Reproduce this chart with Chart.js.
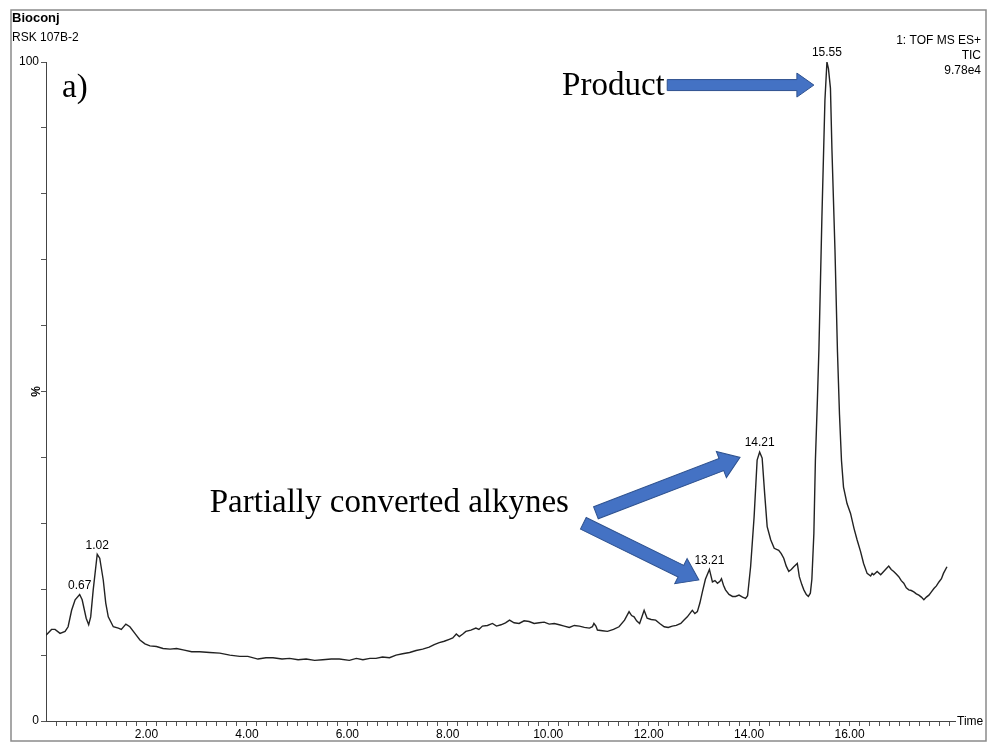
<!DOCTYPE html>
<html lang="en">
<head>
  <meta charset="UTF-8" />
  <title>Bioconj RSK 107B-2 TIC</title>
  <script src="https://cdn.jsdelivr.net/npm/chart.js"></script>
  <style>
    body {
      margin: 0;
      padding: 0;
      background: #fff;
    }
    .wrap {
      position: relative;
      width: 994px;
      height: 744px;
    }
  </style>
</head>
<body>
  <div class="wrap">
    <canvas id="tic"></canvas>
  </div>
  <script>
    /* ===== data (time in min, intensity in %) ===== */
    const times = [
      0.00, 0.11, 0.18, 0.28, 0.38, 0.44, 0.51, 0.58, 0.67, 0.72,
      0.80, 0.85, 0.89, 0.94, 1.02, 1.07, 1.14, 1.19, 1.24, 1.34,
      1.44, 1.50, 1.59, 1.67, 1.77, 1.87, 1.97, 2.07, 2.20, 2.33,
      2.47, 2.60, 2.73, 2.90, 3.06, 3.26, 3.46, 3.66, 3.86, 4.02,
      4.22, 4.38, 4.52, 4.70, 4.85, 5.02, 5.18, 5.35, 5.51, 5.68,
      5.84, 6.04, 6.18, 6.31, 6.45, 6.57, 6.70, 6.84, 6.97, 7.10,
      7.24, 7.37, 7.50, 7.63, 7.73, 7.83, 7.93, 8.03, 8.10, 8.17,
      8.23, 8.30, 8.36, 8.46, 8.56, 8.62, 8.69, 8.79, 8.89, 8.97,
      9.06, 9.15, 9.23, 9.32, 9.42, 9.52, 9.62, 9.72, 9.82, 9.92,
      10.02, 10.12, 10.22, 10.32, 10.42, 10.52, 10.62, 10.72, 10.82, 10.88,
      10.91, 10.95, 10.98, 11.08, 11.18, 11.30, 11.41, 11.52, 11.61, 11.66,
      11.71, 11.76, 11.82, 11.87, 11.91, 11.97, 12.05, 12.14, 12.22, 12.31,
      12.39, 12.47, 12.55, 12.64, 12.70, 12.77, 12.83, 12.87, 12.92, 12.97,
      13.02, 13.07, 13.13, 13.21, 13.27, 13.32, 13.37, 13.42, 13.45, 13.49,
      13.53, 13.60, 13.67, 13.73, 13.80, 13.87, 13.93, 13.97, 14.03, 14.10,
      14.16, 14.21, 14.26, 14.31, 14.36, 14.43, 14.50, 14.59, 14.64, 14.69,
      14.74, 14.79, 14.84, 14.89, 14.96, 15.00, 15.05, 15.09, 15.14, 15.18,
      15.22, 15.25, 15.29, 15.32, 15.36, 15.39, 15.45, 15.51, 15.55, 15.58,
      15.62, 15.65, 15.71, 15.76, 15.80, 15.84, 15.88, 15.95, 16.02, 16.09,
      16.15, 16.22, 16.28, 16.35, 16.42, 16.45, 16.48, 16.55, 16.62, 16.68,
      16.73, 16.78, 16.83, 16.88, 16.93, 16.98, 17.03, 17.08, 17.13, 17.18,
      17.23, 17.28, 17.33, 17.38, 17.43, 17.48, 17.53, 17.58, 17.63, 17.68,
      17.73, 17.78, 17.83, 17.87, 17.94
    ];
    const intensity = [
      13.0, 13.9, 13.9, 13.3, 13.6, 14.3, 16.8, 18.4, 19.2, 18.4,
      15.6, 14.6, 15.8, 19.9, 25.3, 24.7, 21.4, 17.9, 15.8, 14.3,
      14.1, 13.9, 14.7, 14.3, 13.3, 12.3, 11.7, 11.4, 11.3, 11.0,
      10.9, 11.0, 10.8, 10.5, 10.5, 10.4, 10.3, 10.0, 9.8, 9.8,
      9.4, 9.6, 9.6, 9.4, 9.5, 9.3, 9.4, 9.2, 9.3, 9.4,
      9.4, 9.2, 9.5, 9.3, 9.5, 9.5, 9.7, 9.6, 10.0, 10.2,
      10.4, 10.7, 10.9, 11.2, 11.6, 11.9, 12.1, 12.4, 12.6, 13.2,
      12.8, 13.2, 13.6, 13.8, 14.1, 13.9, 14.4, 14.5, 14.8, 14.4,
      14.6, 14.9, 15.3, 14.9, 14.8, 15.2, 15.1, 14.8, 14.9, 15.0,
      14.7, 14.8, 14.6, 14.4, 14.2, 14.5, 14.4, 14.2, 14.1, 14.3,
      14.8, 14.4, 13.8, 13.7, 13.6, 13.9, 14.3, 15.3, 16.6, 16.0,
      15.8, 15.2, 14.8, 15.9, 16.8, 15.6, 15.4, 15.3, 14.8, 14.3,
      14.2, 14.4, 14.5, 14.8, 15.3, 15.8, 16.4, 16.8, 16.3, 16.6,
      17.9, 19.6, 21.5, 23.0, 21.1, 21.3, 20.9, 21.2, 21.6, 20.6,
      19.9, 19.2, 18.9, 18.9, 19.1, 18.8, 18.6, 19.0, 23.4, 31.0,
      39.6, 40.8, 39.9, 34.5, 29.5, 27.5, 26.2, 25.9, 25.4, 24.7,
      23.5, 22.7, 23.0, 23.4, 23.9, 21.9, 20.7, 19.9, 19.2, 18.9,
      19.4, 21.5, 28.5, 39.5, 48.7, 56.3, 76.5, 94.2, 100.0, 99.0,
      96.0, 86.6, 71.5, 56.0, 46.5, 39.5, 35.5, 33.0, 31.5, 29.2,
      27.5, 25.7, 23.9, 22.4, 22.0, 22.4, 22.2, 22.7, 22.2, 22.7,
      23.1, 23.5, 23.0, 22.7, 22.3, 21.9, 21.3, 20.9, 20.2, 19.9,
      19.8, 19.6, 19.3, 19.1, 18.8, 18.4, 18.8, 19.1, 19.6, 20.1,
      20.5, 21.1, 21.6, 22.4, 23.4
    ];

    // labelled peaks
    const peakTimes = [0.67, 1.02, 13.21, 14.21, 15.55];
    const peakLabels = ['0.67', '1.02', '13.21', '14.21', '15.55'];

    // axis labels
    const xLabelValues = [2, 4, 6, 8, 10, 12, 14, 16];
    const yLabelValues = [0, 100];

    const points = times.map((t, i) => ({ x: t, y: intensity[i] }));

    // arrows and notes, anchored in data coordinates
    const arrows = [
      { from: [12.37, 96.5], to: [15.29, 96.5], shaft: 11, head: 24, headLen: 17 },
      { from: [10.95, 31.6], to: [13.82, 40.0], shaft: 13, head: 28, headLen: 20 },
      { from: [10.70, 30.0], to: [13.00, 21.4], shaft: 13, head: 28, headLen: 20 }
    ];
    const notes = [
      { text: 'a)', at: [0.32, 96.0], align: 'left' },
      { text: 'Product', at: [12.32, 96.3], align: 'right' },
      { text: 'Partially converted alkynes', at: [3.26, 33.1], align: 'left' }
    ];

    const SANS = '"Liberation Sans", Arial, sans-serif';
    const SERIF = '"Liberation Serif", "Times New Roman", serif';

    function drawArrow(ctx, x1, y1, x2, y2, shaft, head, headLen) {
      const ang = Math.atan2(y2 - y1, x2 - x1);
      const len = Math.hypot(x2 - x1, y2 - y1);
      ctx.save();
      ctx.translate(x1, y1);
      ctx.rotate(ang);
      ctx.beginPath();
      ctx.moveTo(0, -shaft / 2);
      ctx.lineTo(len - headLen, -shaft / 2);
      ctx.lineTo(len - headLen, -head / 2);
      ctx.lineTo(len, 0);
      ctx.lineTo(len - headLen, head / 2);
      ctx.lineTo(len - headLen, shaft / 2);
      ctx.lineTo(0, shaft / 2);
      ctx.closePath();
      ctx.fillStyle = '#4472C4';
      ctx.fill();
      ctx.strokeStyle = '#2F528F';
      ctx.lineWidth = 1;
      ctx.stroke();
      ctx.restore();
    }

    const decorations = {
      id: 'decorations',
      afterDraw(chart) {
        const ctx = chart.ctx;
        const xs = chart.scales.x, ys = chart.scales.y;
        const area = chart.chartArea;
        ctx.save();

        // outer frame
        ctx.strokeStyle = '#8a8a8a';
        ctx.lineWidth = 1.5;
        ctx.strokeRect(11, 10, 975, 731);

        // header texts
        ctx.fillStyle = '#000';
        ctx.textBaseline = 'middle';
        ctx.textAlign = 'left';
        ctx.font = 'bold 13px ' + SANS;
        ctx.fillText('Bioconj', 12, 18);
        ctx.font = '12px ' + SANS;
        ctx.fillText('RSK 107B-2', 12, 38);
        ctx.textAlign = 'right';
        ctx.fillText('1: TOF MS ES+', 981, 41);
        ctx.fillText('TIC', 981, 56);
        ctx.fillText('9.78e4', 981, 71);

        // axis extras
        ctx.textAlign = 'left';
        ctx.fillText('Time', area.right + 2, area.bottom + 1);
        ctx.save();
        ctx.translate(area.left - 9, ys.getPixelForValue(50));
        ctx.rotate(-Math.PI / 2);
        ctx.textAlign = 'center';
        ctx.font = 'bold 12px ' + SANS;
        ctx.fillText('%', 0, 0);
        ctx.restore();

        // peak labels
        ctx.font = '12px ' + SANS;
        ctx.textAlign = 'center';
        ctx.textBaseline = 'bottom';
        peakTimes.forEach((pt, k) => {
          let best = 0;
          times.forEach((t, i) => {
            if (Math.abs(t - pt) < Math.abs(times[best] - pt)) best = i;
          });
          const px = xs.getPixelForValue(pt);
          const py = ys.getPixelForValue(intensity[best]);
          ctx.fillText(peakLabels[k], px, py - 3);
        });

        // notes
        ctx.textBaseline = 'middle';
        ctx.font = '33px ' + SERIF;
        notes.forEach(n => {
          ctx.textAlign = n.align;
          ctx.fillText(n.text, xs.getPixelForValue(n.at[0]), ys.getPixelForValue(n.at[1]));
        });

        // arrows
        arrows.forEach(a => {
          drawArrow(ctx,
            xs.getPixelForValue(a.from[0]), ys.getPixelForValue(a.from[1]),
            xs.getPixelForValue(a.to[0]), ys.getPixelForValue(a.to[1]),
            a.shaft, a.head, a.headLen);
        });
        ctx.restore();
      }
    };

    new Chart(document.getElementById('tic').getContext('2d'), {
      type: 'line',
      data: {
        datasets: [{
          data: points,
          borderColor: '#222',
          borderWidth: 1.4,
          pointRadius: 0,
          tension: 0,
          fill: false
        }]
      },
      options: {
        responsive: true,
        maintainAspectRatio: false,
        animation: false,
        layout: { padding: { top: 62, right: 39, bottom: 0, left: 0 } },
        plugins: {
          legend: { display: false },
          tooltip: { enabled: false }
        },
        scales: {
          x: {
            type: 'linear',
            min: 0,
            max: 18.1,
            afterFit: s => { s.height = 23; },
            afterBuildTicks: s => {
              const ticks = [];
              for (let i = 1; i * 0.2 <= 18.0 + 1e-9; i++) ticks.push({ value: +(i * 0.2).toFixed(1) });
              s.ticks = ticks;
            },
            ticks: {
              autoSkip: false,
              maxRotation: 0,
              padding: 1,
              color: '#000',
              font: { family: SANS, size: 12 },
              callback: v => xLabelValues.includes(Math.round(v * 10) / 10) ? v.toFixed(2) : ''
            },
            grid: { drawOnChartArea: false, tickLength: 5, color: '#555' },
            border: { display: true, color: '#444', width: 1 }
          },
          y: {
            min: 0,
            max: 100,
            afterFit: s => { s.width = 46; },
            ticks: {
              stepSize: 10,
              padding: 2,
              color: '#000',
              font: { family: SANS, size: 12 },
              callback: v => yLabelValues.includes(v) ? String(v) : ''
            },
            grid: { drawOnChartArea: false, tickLength: 5, color: '#555' },
            border: { display: true, color: '#444', width: 1 }
          }
        }
      },
      plugins: [decorations]
    });
  </script>
</body>
</html>
